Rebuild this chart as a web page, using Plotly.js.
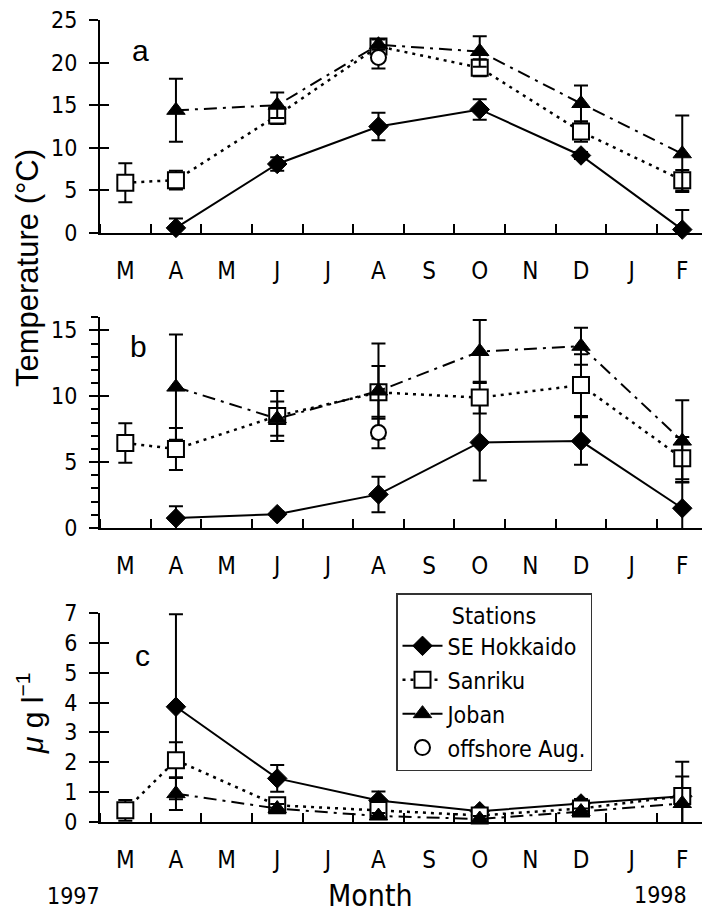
<!DOCTYPE html>
<html>
<head>
<meta charset="utf-8">
<script src="https://cdn.plot.ly/plotly-3.0.1.min.js"></script>
<style>
  html, body { margin: 0; padding: 0; background: #ffffff; }
  #chart { width: 702px; height: 913px; }
</style>
</head>
<body>
<div id="chart"></div>
<script>
// Month axis: March 1997 .. February 1998
const monthLabels = ['M', 'A', 'M', 'J', 'J', 'A', 'S', 'O', 'N', 'D', 'J', 'F'];
const monthIndex = [0, 1, 2, 3, 4, 5, 6, 7, 8, 9, 10, 11];

// Sampling months per station group
const hokkaidoMonths = [1, 3, 5, 7, 9, 11];
const sanrikuMonths = [0, 1, 3, 5, 7, 9, 11];
const jobanMonths = [1, 3, 5, 7, 9, 11];
const offshoreMonths = [5];

// Panel a: temperature (°C)
const hokkaidoA = [0.6, 8.1, 12.5, 14.5, 9.1, 0.4];
const hokkaidoAErr = [1.1, 0.8, 1.6, 1.2, 0.4, 2.3];
const sanrikuA = [5.9, 6.2, 13.8, 21.9, 19.4, 11.9, 6.2];
const sanrikuAErr = [2.3, 1.1, 1.0, 0.5, 1.0, 1.2, 1.2];
const jobanA = [14.4, 15.0, 22.1, 21.3, 15.2, 9.3];
const jobanAErr = [3.7, 1.5, 0.6, 1.8, 2.1, 4.5];
const offshoreA = [20.6];
const offshoreAErr = [1.3];

// Panel b: temperature (°C)
const hokkaidoB = [0.75, 1.05, 2.55, 6.5, 6.6, 1.5];
const hokkaidoBErr = [0.9, 0.2, 1.35, 2.9, 1.8, 1.95];
const sanrikuB = [6.45, 6.0, 8.5, 10.3, 9.9, 10.85, 5.3];
const sanrikuBErr = [1.5, 1.6, 1.9, 2.0, 1.2, 2.35, 1.6];
const jobanB = [10.7, 8.3, 10.4, 13.4, 13.8, 6.6];
const jobanBErr = [4.0, 1.3, 3.6, 2.4, 1.4, 3.1];
const offshoreB = [7.25];
const offshoreBErr = [1.2];

// Panel c: µg l-1
const hokkaidoC = [3.86, 1.46, 0.72, 0.36, 0.62, 0.86];
const hokkaidoCErr = [3.1, 0.45, 0.3, 0.1, 0.15, 0.2];
const sanrikuC = [0.39, 2.07, 0.56, 0.4, 0.22, 0.45, 0.87];
const sanrikuCErr = [0.35, 0.6, 0.2, 0.15, 0.1, 0.1, 1.15];
const jobanC = [0.95, 0.45, 0.2, 0.1, 0.35, 0.62];
const jobanCErr = [0.55, 0.15, 0.1, 0.1, 0.1, 0.9];

const NARROW = "'Liberation Sans Narrow', 'Arial Narrow', 'DejaVu Sans Condensed', sans-serif";
const REGULAR = "'Liberation Sans', Arial, sans-serif";

// page geometry (pixels) -> paper fractions
const L = 100, R = 0, T = 20, B = 91, W = 702, H = 913;
const PW = W - L - R, PH = H - T - B;
const px = x => (x - L) / PW;
const py = y => (H - B - y) / PH;

const stations = [
  { name: 'SE Hokkaido', x: hokkaidoMonths, mode: 'lines+markers',
    line: { color: 'black', width: 2, dash: 'solid' },
    marker: { symbol: 'diamond', size: 15, color: 'black', line: { color: 'black', width: 1 } },
    panels: [[hokkaidoA, hokkaidoAErr], [hokkaidoB, hokkaidoBErr], [hokkaidoC, hokkaidoCErr]] },
  { name: 'Sanriku', x: sanrikuMonths, mode: 'lines+markers',
    line: { color: 'black', width: 2.5, dash: '3px,5px' },
    marker: { symbol: 'square', size: 16, color: 'white', line: { color: 'black', width: 2 } },
    panels: [[sanrikuA, sanrikuAErr], [sanrikuB, sanrikuBErr], [sanrikuC, sanrikuCErr]] },
  { name: 'Joban', x: jobanMonths, mode: 'lines+markers',
    line: { color: 'black', width: 2, dash: '13px,6px,3px,6px' },
    marker: { symbol: 'triangle-up', size: 16, color: 'black', line: { color: 'black', width: 1 } },
    panels: [[jobanA, jobanAErr], [jobanB, jobanBErr], [jobanC, jobanCErr]] },
  { name: 'offshore Aug.', x: offshoreMonths, mode: 'markers',
    line: { color: 'black', width: 2 },
    marker: { symbol: 'circle', size: 15, color: 'white', line: { color: 'black', width: 2 } },
    panels: [[offshoreA, offshoreAErr], [offshoreB, offshoreBErr], null] }
];

const axisPairs = [['x', 'y'], ['x2', 'y2'], ['x3', 'y3']];
const traces = [];
stations.forEach((s, si) => {
  s.panels.forEach((p, pi) => {
    if (!p) return;
    traces.push({
      type: 'scatter', mode: s.mode, name: s.name,
      x: s.x, y: p[0],
      xaxis: axisPairs[pi][0], yaxis: axisPairs[pi][1],
      legendgroup: 'g' + si, showlegend: pi === 0,
      line: s.line, marker: s.marker, cliponaxis: false,
      error_y: { type: 'data', array: p[1], visible: true, color: 'black', thickness: 2, width: 7 },
      hoverinfo: 'skip'
    });
  });
});
// empty traces so the inward-tick overlay axes are drawn
['y4', 'y5', 'y6'].forEach((ya, i) => {
  traces.push({ type: 'scatter', x: [null], y: [null], xaxis: axisPairs[i][0], yaxis: ya,
                showlegend: false, hoverinfo: 'skip' });
});

function xAxis(anchor) {
  return {
    anchor: anchor, domain: [0, 1], range: [-0.5, 11.39],
    tickmode: 'array', tickvals: monthIndex, ticktext: monthLabels, ticks: '',
    ticklabelstandoff: 15,
    tickfont: { family: NARROW, size: 24, color: 'black' },
    minor: { tick0: 0.5, dtick: 1, ticks: 'inside', ticklen: 9, tickwidth: 2, tickcolor: 'black', showgrid: false },
    showline: true, linecolor: 'black', linewidth: 2, showgrid: false, zeroline: false,
    layer: 'below traces', fixedrange: true
  };
}
function yAxis(anchor, domain, range, dtick, minor) {
  const ax = {
    anchor: anchor, domain: domain, range: range,
    tickmode: 'linear', tick0: 0, dtick: dtick,
    ticks: 'outside', ticklen: 9, tickwidth: 2, tickcolor: 'black',
    ticklabelstandoff: 7,
    tickfont: { family: NARROW, size: 23, color: 'black' },
    showline: true, linecolor: 'black', linewidth: 2, showgrid: false, zeroline: false,
    layer: 'below traces', fixedrange: true
  };
  if (minor) ax.minor = { dtick: 1, ticks: 'outside', ticklen: 7, tickwidth: 2, tickcolor: 'black', showgrid: false };
  return ax;
}
function yOverlay(over, anchor, range, dtick) {
  return {
    overlaying: over, anchor: anchor, range: range, side: 'left',
    tickmode: 'linear', tick0: 0, dtick: dtick,
    ticks: 'inside', ticklen: 9, tickwidth: 2, tickcolor: 'black',
    showticklabels: false, showline: false, showgrid: false, zeroline: false, fixedrange: true
  };
}

const domA = [py(233), 1];
const domB = [py(528), py(317)];
const domC = [0, py(613)];
const rangeA = [0, 25], rangeB = [0, 16.02], rangeC = [0, 7];

const annotations = [
  { text: 'a', x: px(140), y: py(51), font: { family: REGULAR, size: 30 } },
  { text: 'b', x: px(138), y: py(346), font: { family: REGULAR, size: 30 } },
  { text: 'c', x: px(142), y: py(655), font: { family: REGULAR, size: 30 } },
  { text: 'Temperature (°C)', x: px(27), y: py(268), textangle: -90, font: { family: REGULAR, size: 31 } },
  { text: '<i>μ</i> g l<sup>−1</sup>', x: px(30), y: py(714), textangle: -90, font: { family: REGULAR, size: 30 } },
  { text: '1997', x: px(73), y: py(896), font: { family: NARROW, size: 23 } },
  { text: 'Month', x: px(370), y: py(895), font: { family: NARROW, size: 30 } },
  { text: '1998', x: px(660), y: py(895), font: { family: NARROW, size: 23 } }
].map(a => Object.assign({ xref: 'paper', yref: 'paper', showarrow: false,
                           xanchor: 'center', yanchor: 'middle' }, a, {
  font: Object.assign({ color: 'black' }, a.font) }));

// short stubs where the month axes run past the value axes
const shapes = ['y', 'y2', 'y3'].map(ya => ({
  type: 'line', xref: 'paper', yref: ya, x0: px(92), x1: 0, y0: 0, y1: 0,
  line: { color: 'black', width: 2 }
}));

const layout = {
  width: W, height: H,
  margin: { l: L, r: R, t: T, b: B, pad: 0 },
  paper_bgcolor: 'white', plot_bgcolor: 'rgba(0,0,0,0)',
  showlegend: true,
  legend: {
    x: px(396), y: py(593), xanchor: 'left', yanchor: 'top',
    bgcolor: 'white', bordercolor: '#333', borderwidth: 1.5,
    font: { family: NARROW, size: 23, color: 'black' },
    title: { text: 'Stations', side: 'top center', font: { family: NARROW, size: 23, color: 'black' } },
    traceorder: 'grouped', tracegroupgap: 1, itemwidth: 40,
    entrywidth: 200, entrywidthmode: 'pixels'
  },
  xaxis: xAxis('y'), xaxis2: xAxis('y2'), xaxis3: xAxis('y3'),
  yaxis: yAxis('x', domA, rangeA, 5, false),
  yaxis2: yAxis('x2', domB, rangeB, 5, true),
  yaxis3: yAxis('x3', domC, rangeC, 1, false),
  yaxis4: yOverlay('y', 'x', rangeA, 5),
  yaxis5: yOverlay('y2', 'x2', rangeB, 5),
  yaxis6: yOverlay('y3', 'x3', rangeC, 1),
  annotations: annotations,
  shapes: shapes
};

Plotly.newPlot('chart', traces, layout, { displayModeBar: false, staticPlot: true });
</script>
</body>
</html>
